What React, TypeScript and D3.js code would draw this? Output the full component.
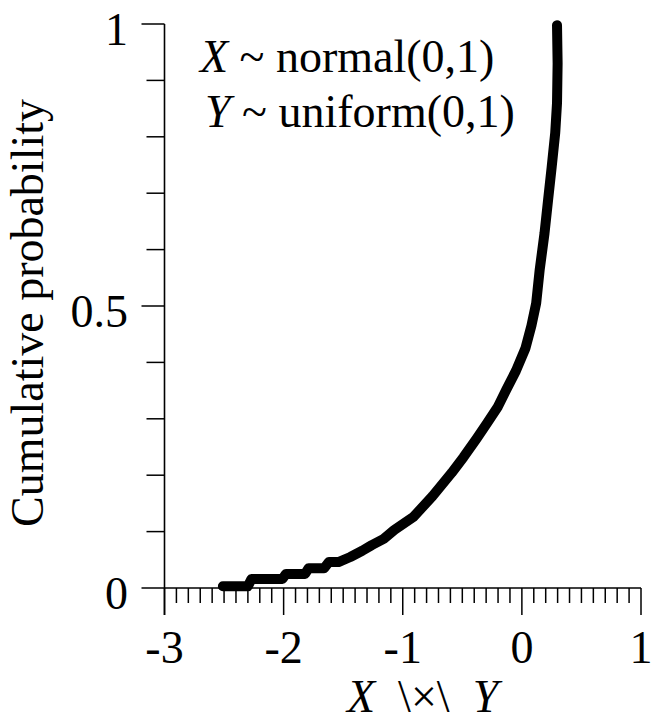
import React from "react";
import * as d3 from "d3";

// Curve (x value, cumulative probability)
const curveX = [
  -2.51, -2.30, -2.27, -2.22, -2.01, -1.98, -1.93, -1.82, -1.79, -1.73, -1.66, -1.62, -1.57, -1.54,
  -1.44, -1.34, -1.26, -1.16, -1.07, -0.91, -0.75, -0.59, -0.49, -0.38, -0.29, -0.20, -0.13, -0.05,
  0.03, 0.08, 0.12, 0.15, 0.19, 0.22, 0.25, 0.28, 0.295, 0.30, 0.295,
];
const curveP = [
  0.003, 0.003, 0.016, 0.016, 0.016, 0.025, 0.025, 0.025, 0.035, 0.035, 0.035, 0.046, 0.046, 0.046,
  0.055, 0.066, 0.076, 0.087, 0.103, 0.126, 0.163, 0.204, 0.232, 0.265, 0.293, 0.322, 0.352, 0.385,
  0.425, 0.465, 0.505, 0.565, 0.629, 0.688, 0.746, 0.807, 0.86, 0.93, 0.998,
];

const xMajorTicks = [-3, -2, -1, 0, 1];
const xMinorTicks = d3.range(-30, 11).map((i) => i / 10);
const yMajorTicks = [0, 0.5, 1];
const yMinorTicks = d3.range(0, 11).map((i) => i / 10);
const yTickLabels = ["0", "0.5", "1"];
const xTickLabels = ["-3", "-2", "-1", "0", "1"];

const FONT = "'Liberation Serif', 'Times New Roman', serif";
const FS = 46;

export default function App() {
  const W = 661, H = 722;
  const x = d3.scaleLinear().domain([-3, 1]).range([164.5, 641]);
  const y = d3.scaleLinear().domain([0, 1]).range([588, 24]);
  const pts = curveX.map((v, i) => [v, curveP[i]] as [number, number]);
  const line = d3
    .line<[number, number]>()
    .x((d) => x(d[0]))
    .y((d) => y(d[1]))
    .curve(d3.curveLinear);

  const isMajor = (v: number) => Math.abs(v - Math.round(v)) < 1e-6;

  return (
    <svg
      width={W}
      height={H}
      style={{ position: "absolute", left: 0, top: 0, background: "#fff" }}
      fontFamily={FONT}
    >
      <rect x={0} y={0} width={W} height={H} fill="#fff" />
      {/* y axis line */}
      <line x1={x(-3)} x2={x(-3)} y1={y(1)} y2={615} stroke="#000" strokeWidth={1.6} />
      {/* x axis line */}
      <line x1={x(-3)} x2={x(1)} y1={y(0)} y2={y(0)} stroke="#000" strokeWidth={1.6} />
      {/* y ticks */}
      {yMinorTicks.map((v) => {
        const major = yMajorTicks.some((m) => Math.abs(m - v) < 1e-6);
        return (
          <line
            key={"yt" + v}
            x1={x(-3) - (major ? 23 : 18)}
            x2={x(-3)}
            y1={y(v)}
            y2={y(v)}
            stroke="#000"
            strokeWidth={1.5}
          />
        );
      })}
      {/* x ticks */}
      {xMinorTicks.map((v) => (
        <line
          key={"xt" + v}
          x1={x(v)}
          x2={x(v)}
          y1={y(0)}
          y2={y(0) + (isMajor(v) ? 27 : 15)}
          stroke="#000"
          strokeWidth={1.5}
        />
      ))}
      {/* y tick labels */}
      {yMajorTicks.map((v, i) => (
        <text key={"yl" + v} x={128} y={y(v) + 21} textAnchor="end" fontSize={FS} fill="#000">
          {yTickLabels[i]}
        </text>
      ))}
      {/* x tick labels */}
      {xMajorTicks.map((v, i) => (
        <text key={"xl" + v} x={x(v)} y={663} textAnchor="middle" fontSize={FS} fill="#000">
          {xTickLabels[i]}
        </text>
      ))}
      {/* axis titles */}
      <text x={347} y={712} fontSize={FS} fill="#000" xmlSpace="preserve">
        <tspan fontStyle="italic">X</tspan>
        <tspan>{"  \\×\\  "}</tspan>
        <tspan fontStyle="italic">Y</tspan>
      </text>
      <text
        transform="translate(43,313) rotate(-90)"
        textAnchor="middle"
        fontSize={FS}
        fill="#000"
      >
        Cumulative probability
      </text>
      {/* legend text */}
      <text x={200} y={72} fontSize={FS} fill="#000" xmlSpace="preserve">
        <tspan fontStyle="italic">X</tspan>
        <tspan>{" ~ normal(0,1)"}</tspan>
      </text>
      <text x={205} y={127} fontSize={FS} fill="#000" xmlSpace="preserve">
        <tspan fontStyle="italic">Y</tspan>
        <tspan>{" ~ uniform(0,1)"}</tspan>
      </text>
      {/* curve */}
      <path
        d={line(pts) || ""}
        fill="none"
        stroke="#000"
        strokeWidth={10}
        strokeLinejoin="round"
        strokeLinecap="round"
      />
    </svg>
  );
}
